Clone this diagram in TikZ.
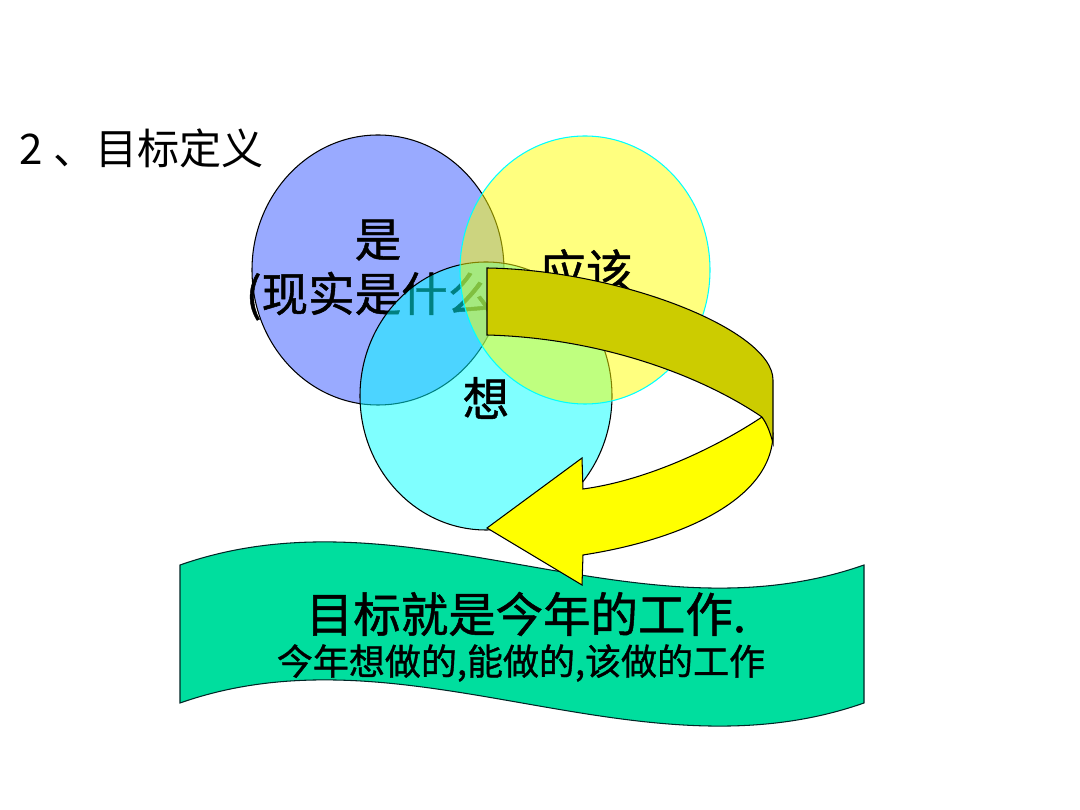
\documentclass[tikz,border=0pt]{standalone}
\usepackage{fontspec}
\newfontfamily\cjk[FakeBold=1.0]{Noto Sans CJK SC}
\newfontfamily\cjklight{Noto Sans CJK SC}
\definecolor{setblue}{RGB}{153,170,255}
\definecolor{setcyan}{RGB}{0,255,255}
\definecolor{setyellow}{RGB}{255,255,0}
\definecolor{bannergreen}{RGB}{0,222,158}
\definecolor{backolive}{RGB}{204,204,0}
\begin{document}
\begin{tikzpicture}[x=0.02cm,y=-0.02cm,
  lbl/.style={font=\cjk\fontsize{26.5}{31}\selectfont,align=center,inner sep=0pt},
  rim/.style={draw=black,line width=0.6pt}]
\useasboundingbox[fill=white] (0,0) rectangle (1080,810);
% title
\node[anchor=west,inner sep=0pt,font=\cjklight\fontsize{24}{28}\selectfont] (title) at (19,148) {2\hspace{6pt}、目标定义};
% three sets
\draw[rim,fill=setblue] (378,270) ellipse [x radius=126,y radius=135];
\node[lbl] (is) at (378,270) {是\\(现实是什么)};
\draw[rim,fill=setcyan,fill opacity=0.5] (486,396) ellipse [x radius=126,y radius=134];
\draw[draw=setcyan,line width=0.6pt,fill=setyellow,fill opacity=0.5] (585,270) ellipse [x radius=125,y radius=134];
\node[lbl] (should) at (586,271) {应该};
\node[lbl] (want) at (486,398) {想};
% banner
\draw[draw=black!70!teal,line width=0.6pt,fill=bannergreen] (180,565) .. controls (408,485) and (636,645) .. (864,565)
  -- (864,703) .. controls (636,783) and (408,623) .. (180,703) -- cycle;
\node[inner sep=0pt,font=\cjk\fontsize{27}{30}\selectfont] (goal) at (526,614) {目标就是今年的工作.};
\node[inner sep=0pt,font=\cjk\fontsize{20.5}{24}\selectfont] (goalsub) at (521,663) {今年想做的,能做的,该做的工作};
% curved arrow, front face then back face
\draw[rim,fill=setyellow] (762,417) .. controls (720,445) and (650,480) .. (583,489) -- (582,458) -- (487,528)
  -- (582,585) -- (583,555) .. controls (680,540) and (773,500) .. (773,433) -- cycle;
\draw[rim,fill=backolive] (487,268) .. controls (620,270) and (773,330) .. (773,380) -- (773,443)
  .. controls (770,432) and (767,424) .. (762,417) .. controls (700,375) and (600,338) .. (487,335) -- cycle;
\end{tikzpicture}
\end{document}
